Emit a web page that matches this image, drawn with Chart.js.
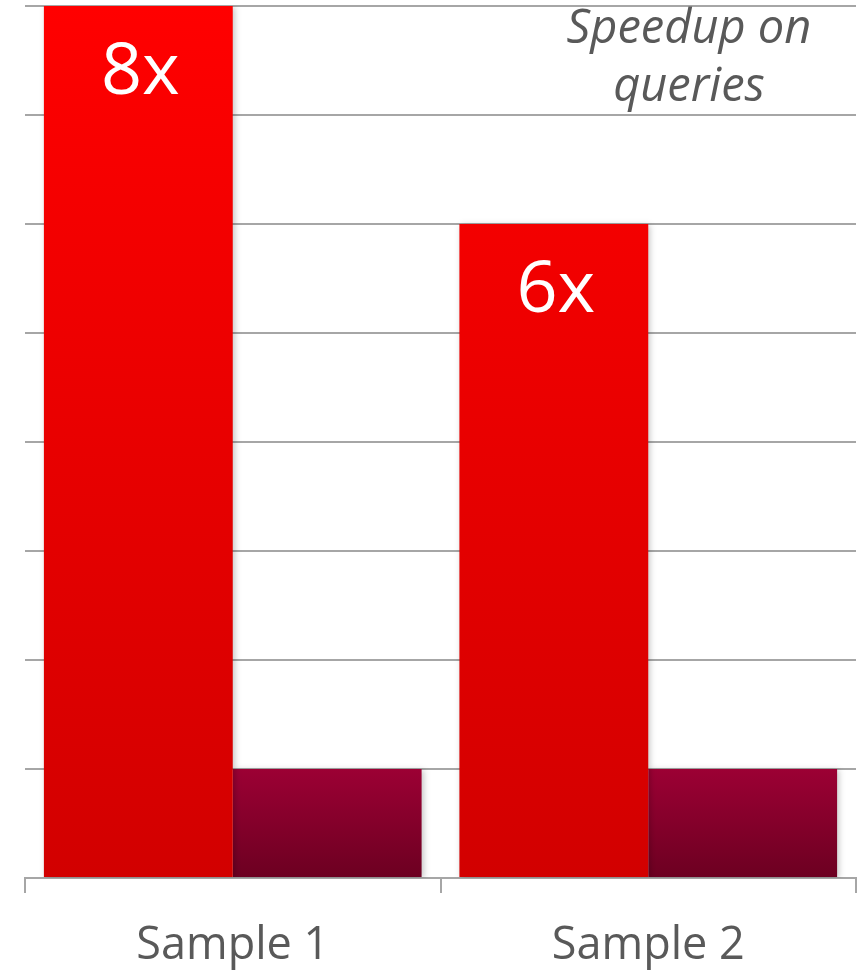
<!DOCTYPE html>
<html>
<head>
<meta charset="utf-8">
<script src="https://cdn.jsdelivr.net/npm/chart.js@4"></script>
<style>
  html, body { margin: 0; padding: 0; background: #fff; }
  #wrap { width: 868px; height: 971px; }
</style>
</head>
<body>
<div id="wrap"><canvas id="speedChart"></canvas></div>
<script>
const categories = ["Sample 1", "Sample 2"];
const speedupValues = [8, 6];
const baselineValues = [1, 1];
const speedupLabels = ["8x", "6x"];
const yTicks = [0, 1, 2, 3, 4, 5, 6, 7, 8];
const noteLines = ["Speedup on", "queries"];

// gradient running from the top of each bar down to the zero line
function barGradient(ctx, top, bottom) {
    let chart = ctx.chart;
    let yScale = chart.scales.y;
    if (!chart.chartArea || !yScale || ctx.raw === undefined) return top;
    let y0 = yScale.getPixelForValue(ctx.raw);
    let y1 = yScale.getPixelForValue(0);
    if (!isFinite(y0) || !isFinite(y1) || y0 === y1) return top;
    let g = chart.ctx.createLinearGradient(0, y0, 0, y1);
    g.addColorStop(0, top);
    g.addColorStop(1, bottom);
    return g;
}

function areaGradient(ctx, top, bottom) {
    let chart = ctx.chart;
    let area = chart.chartArea;
    if (!area) return top;
    let g = chart.ctx.createLinearGradient(0, area.top, 0, area.bottom);
    g.addColorStop(0, top);
    g.addColorStop(1, bottom);
    return g;
}

// white value labels inside the red bars + the italic note top-right
const labelPlugin = {
    id: 'labelPlugin',
    afterDatasetsDraw(chart) {
        let ctx = chart.ctx;
        let meta = chart.getDatasetMeta(0);
        ctx.save();
        ctx.fillStyle = '#ffffff';
        ctx.font = '72px "Open Sans"';
        ctx.textAlign = 'center';
        ctx.textBaseline = 'middle';
        meta.data.forEach((bar, i) => {
            ctx.fillText(speedupLabels[i], bar.x + 2, bar.y + 67);
        });
        ctx.fillStyle = '#595959';
        ctx.font = 'italic 47px "Open Sans"';
        ctx.fillText(noteLines[0], 689, 30);
        ctx.fillText(noteLines[1], 689, 88);
        ctx.restore();
    }
};

const shadowPlugin = {
    id: 'shadowPlugin',
    beforeDatasetsDraw(chart) {
        chart.ctx.save();
        chart.ctx.shadowColor = 'rgba(0,0,0,0.22)';
        chart.ctx.shadowBlur = 6;
        chart.ctx.shadowOffsetX = 2;
        chart.ctx.shadowOffsetY = 1;
    },
    afterDatasetsDraw(chart) {
        chart.ctx.restore();
    }
};

new Chart(document.getElementById('speedChart').getContext('2d'), {
    type: 'bar',
    data: {
        labels: categories,
        datasets: [
            {
                label: 'Speedup',
                data: speedupValues,
                backgroundColor: (c) => areaGradient(c, '#ff0000', '#d20000'),
                borderWidth: 0
            },
            {
                label: 'Baseline',
                data: baselineValues,
                backgroundColor: (c) => barGradient(c, '#9c0034', '#6c0021'),
                borderWidth: 0
            }
        ]
    },
    options: {
        responsive: true,
        maintainAspectRatio: false,
        animation: false,
        layout: { padding: { left: 25, right: 12, top: 6, bottom: 0 } },
        plugins: {
            legend: { display: false },
            tooltip: { enabled: false }
        },
        datasets: {
            bar: { categoryPercentage: 0.909, barPercentage: 1.0 }
        },
        scales: {
            x: {
                afterFit: (axis) => { axis.height = 93; },
                grid: {
                    display: true,
                    drawOnChartArea: false,
                    drawTicks: true,
                    tickLength: 15,
                    color: '#a6a6a6',
                    lineWidth: 2
                },
                border: { display: true, color: '#a6a6a6', width: 2 },
                ticks: {
                    color: '#595959',
                    font: { family: '"Open Sans"', size: 45 },
                    padding: 26
                }
            },
            y: {
                min: 0,
                max: 8,
                afterBuildTicks: (axis) => {
                    axis.ticks = yTicks.map(v => ({ value: v }));
                },
                grid: {
                    color: '#a6a6a6',
                    lineWidth: 2,
                    drawTicks: false
                },
                border: { display: false },
                ticks: { display: false }
            }
        }
    },
    plugins: [shadowPlugin, labelPlugin]
});
</script>
</body>
</html>
